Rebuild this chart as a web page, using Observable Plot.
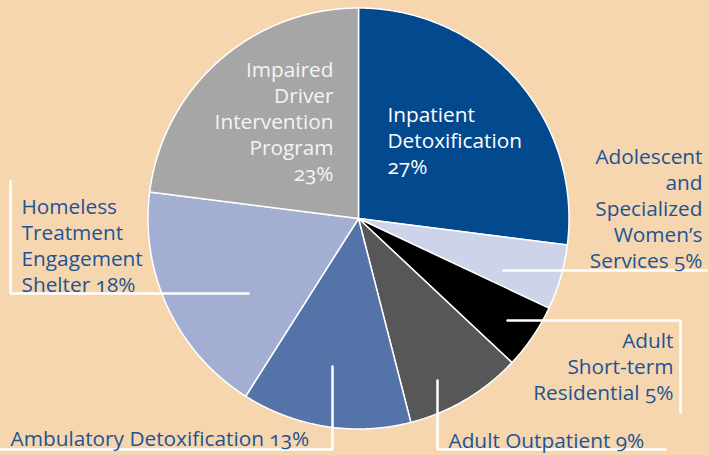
<!DOCTYPE html>
<html><head><meta charset="utf-8">
<script src="https://cdn.jsdelivr.net/npm/d3@7"></script>
<script src="https://cdn.jsdelivr.net/npm/@observablehq/plot@0.6"></script>
<style>html,body{margin:0;padding:0;background:#F6D6AE;} svg{display:block}</style>
</head><body><div id="chart"></div>
<script>
// Data
const categories = ["Inpatient Detoxification","Adolescent and Specialized Women's Services","Adult Short-term Residential","Adult Outpatient","Ambulatory Detoxification","Homeless Treatment Engagement Shelter","Impaired Driver Intervention Program"];
const shares = [27, 5, 5, 9, 13, 18, 23];
const labelTexts = [
  "Inpatient\nDetoxification\n27%",
  "Adolescent\nand\nSpecialized\nWomen’s\nServices 5%",
  "Adult\nShort-term\nResidential 5%",
  "Adult Outpatient 9%",
  "Ambulatory Detoxification 13%",
  "Homeless\nTreatment\nEngagement\nShelter 18%",
  "Impaired\nDriver\nIntervention\nProgram\n23%"
];
const sliceColors = ["#02498E","#CDD3E8","#000000","#575757","#5373A9","#A3AFD2","#A6A6A6"];

// Layout (pixels)
const W = 709, H = 455;
const cx = 358, cy = 218, R = 210.5;
const labelLayout = [
  {x: 387, y: 173, anchor: "start", fill: "#FFFFFF"},
  {x: 702, y: 267, anchor: "end", fill: "#1C5494"},
  {x: 673, y: 399, anchor: "end", fill: "#1C5494"},
  {x: 448, y: 447, anchor: "start", fill: "#1C5494"},
  {x: 10, y: 445, anchor: "start", fill: "#1C5494"},
  {x: 21, y: 291, anchor: "start", fill: "#1C5494"},
  {x: 333, y: 180, anchor: "end", fill: "#F4F4F4"}
];
const leaders = [
  [[10,181],[10,293],[248,293]],
  [[503,270],[706,270]],
  [[507,320],[680,320],[680,412]],
  [[0,449],[332,449],[332,366]],
  [[437,380],[437,449],[665,449]]
];

// Pie geometry from data
const arcs = d3.pie().sort(null).value(d => d)(shares);
const slicePts = [];
arcs.forEach((a, i) => {
  const cat = categories[i];
  slicePts.push({cat, x: cx, y: cy});
  const n = Math.max(2, Math.ceil((a.endAngle - a.startAngle) / 0.005));
  for (let k = 0; k <= n; k++) {
    const t = a.startAngle + (a.endAngle - a.startAngle) * k / n;
    slicePts.push({cat, x: cx + R * Math.sin(t), y: cy - R * Math.cos(t)});
  }
  slicePts.push({cat, x: cx, y: cy});
});
const labelData = categories.map((c, i) => ({cat: c, text: labelTexts[i], ...labelLayout[i]}));
const leaderPts = leaders.flatMap((pts, j) => pts.map(([x, y]) => ({j, x, y})));

const textOpts = {fontSize: 20.8, lineHeight: 1.25, lineAnchor: "bottom"};
const plot = Plot.plot({
  width: W, height: H,
  margin: 0,
  x: {type: "identity", axis: null},
  y: {type: "identity", axis: null},
  color: {domain: categories, range: sliceColors},
  style: {background: "#F6D6AE", fontFamily: "'Open Sans', sans-serif", fontVariantNumeric: "oldstyle-nums"},
  marks: [
    Plot.line(slicePts, {x: "x", y: "y", z: "cat", fill: "cat", stroke: "white", strokeWidth: 1.5, strokeLinejoin: "round", curve: "linear"}),
    Plot.line(leaderPts, {x: "x", y: "y", z: "j", stroke: "white", strokeWidth: 2.5, strokeLinejoin: "miter"}),
    ...["start", "end"].map(anc => Plot.text(labelData.filter(d => d.anchor === anc), {
      x: "x", y: "y", text: "text", textAnchor: anc, fill: d => d.fill, ...textOpts
    }))
  ]
});
document.getElementById("chart").append(plot);
</script>
</body></html>
